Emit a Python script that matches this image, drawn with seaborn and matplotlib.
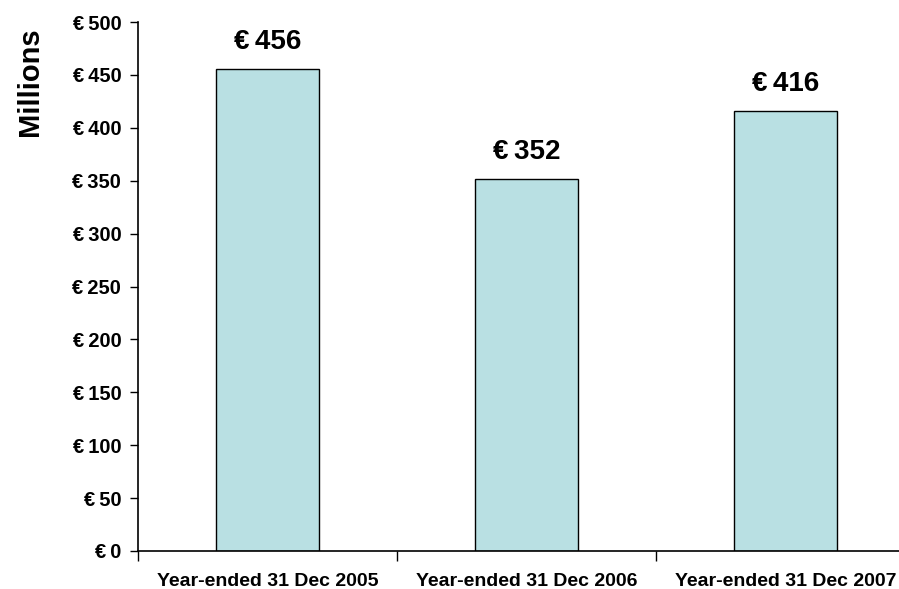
import matplotlib
matplotlib.use("Agg")
import matplotlib.pyplot as plt
import seaborn as sns
import pandas as pd
from matplotlib.ticker import FixedLocator

categories = ["Year-ended 31 Dec 2005", "Year-ended 31 Dec 2006", "Year-ended 31 Dec 2007"]
values = [456, 352, 416]
y_ticks = [0, 50, 100, 150, 200, 250, 300, 350, 400, 450, 500]
y_tick_labels = ["€\u2009" + str(v) for v in y_ticks]
bar_labels = ["€\u2009" + str(v) for v in values]

sns.set_style("ticks")
plt.rcParams["font.family"] = ["Liberation Sans", "DejaVu Sans"]
plt.rcParams["font.weight"] = "bold"
plt.rcParams["text.color"] = "black"
plt.rcParams["xtick.color"] = "black"
plt.rcParams["ytick.color"] = "black"
plt.rcParams["xtick.labelcolor"] = "black"
plt.rcParams["ytick.labelcolor"] = "black"

df = pd.DataFrame({"period": categories, "value": values})

fig = plt.figure(figsize=(8.99, 5.89), dpi=100)
ax = fig.add_axes([138 / 899, 1 - 551 / 589, (915 - 138) / 899, (551 - 22) / 589])

sns.barplot(data=df, x="period", y="value", color="#B9E0E3", edgecolor="black",
            linewidth=1.0, width=0.4, saturation=1, ax=ax)

ax.set_xlim(-0.5, 2.5)
ax.set_ylim(0, 500)
ax.set_yticks(y_ticks)
ax.set_yticklabels(y_tick_labels, fontsize=14.5, fontweight="bold", color="black")
ax.tick_params(axis="y", direction="out", length=6, width=1, color="black", pad=6)

ax.set_xticks(range(len(categories)))
ax.set_xticklabels(categories, fontsize=14, fontweight="bold", color="black")
ax.tick_params(axis="x", which="major", length=0, pad=16)
ax.xaxis.set_minor_locator(FixedLocator([-0.5, 0.5, 1.5, 2.5]))
ax.tick_params(axis="x", which="minor", direction="out", length=7, width=1, color="black")

ax.set_xlabel("")
ax.set_ylabel("")
for s in ["top", "right"]:
    ax.spines[s].set_visible(False)
for s in ["left", "bottom"]:
    ax.spines[s].set_color("black")
    ax.spines[s].set_linewidth(1.2)

for i, (v, lab) in enumerate(zip(values, bar_labels)):
    ax.annotate(lab, xy=(i, v), xytext=(0, 14), textcoords="offset points",
                ha="center", va="baseline", fontsize=20, fontweight="bold", color="black")

fig.text(30 / 899, 1 - 82 / 589, "Millions", rotation=90, ha="center", va="center",
         fontsize=21, fontweight="bold", color="black")

fig.savefig("out.png", dpi=100)
